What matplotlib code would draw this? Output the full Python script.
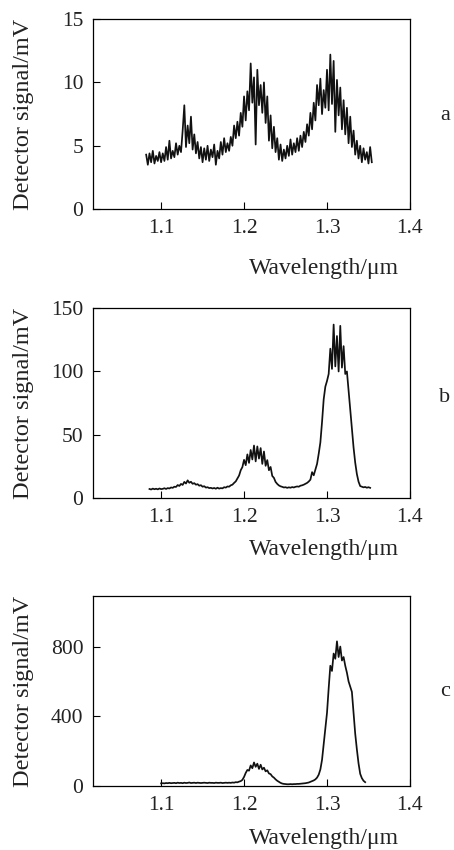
import matplotlib.pyplot as plt

# wavelength grid of the scan (um), shared by the three spectra
wavelength = [
    1.082, 1.084, 1.086, 1.088, 1.090, 1.092, 1.094, 1.096, 1.098, 1.100,
    1.102, 1.104, 1.106, 1.108, 1.110, 1.112, 1.114, 1.116, 1.118, 1.120,
    1.122, 1.124, 1.126, 1.128, 1.130, 1.132, 1.134, 1.136, 1.138, 1.140,
    1.142, 1.144, 1.146, 1.148, 1.150, 1.152, 1.154, 1.156, 1.158, 1.160,
    1.162, 1.164, 1.166, 1.168, 1.170, 1.172, 1.174, 1.176, 1.178, 1.180,
    1.182, 1.184, 1.186, 1.188, 1.190, 1.192, 1.194, 1.196, 1.198, 1.200,
    1.202, 1.204, 1.206, 1.208, 1.210, 1.212, 1.214, 1.216, 1.218, 1.220,
    1.222, 1.224, 1.226, 1.228, 1.230, 1.232, 1.234, 1.236, 1.238, 1.240,
    1.242, 1.244, 1.246, 1.248, 1.250, 1.252, 1.254, 1.256, 1.258, 1.260,
    1.262, 1.264, 1.266, 1.268, 1.270, 1.272, 1.274, 1.276, 1.278, 1.280,
    1.282, 1.284, 1.286, 1.288, 1.290, 1.292, 1.294, 1.296, 1.298, 1.300,
    1.302, 1.304, 1.306, 1.308, 1.310, 1.312, 1.314, 1.316, 1.318, 1.320,
    1.322, 1.324, 1.326, 1.328, 1.330, 1.332, 1.334, 1.336, 1.338, 1.340,
    1.342, 1.344, 1.346, 1.348, 1.350, 1.352, 1.354,
]

# spectrum a (mV), 1.082 - 1.354
signal_a = [
    4.3, 3.5, 4.4, 3.7, 4.6, 3.6, 4.2, 3.8, 4.5, 3.7,
    4.4, 3.8, 4.9, 3.9, 5.4, 4.0, 4.6, 4.1, 5.2, 4.3,
    5.0, 4.5, 6.2, 8.2, 4.9, 6.6, 5.2, 7.3, 4.7, 5.9,
    4.4, 5.3, 4.0, 4.9, 3.7, 4.8, 3.9, 5.0, 3.8, 4.7,
    4.1, 5.1, 3.5, 4.6, 4.0, 5.3, 4.3, 5.6, 4.5, 5.2,
    4.6, 5.7, 5.0, 6.6, 5.6, 6.9, 5.8, 7.6, 6.5, 8.9,
    7.0, 9.3, 7.8, 11.5, 8.4, 10.4, 5.1, 11.0, 8.2, 9.8,
    7.6, 10.0, 6.8, 8.9, 5.4, 7.4, 4.8, 6.5, 4.5, 5.6,
    3.9, 5.1, 3.8, 4.7, 4.0, 5.0, 4.2, 5.5, 4.3, 5.2,
    4.5, 5.6, 4.6, 5.8, 4.9, 6.1, 5.3, 6.7, 5.8, 7.6,
    6.3, 8.4, 7.0, 9.8, 8.2, 10.3, 7.5, 9.4, 8.0, 11.0,
    7.8, 12.2, 8.3, 11.7, 6.1, 10.2, 7.4, 9.6, 6.3, 8.6,
    5.9, 8.0, 5.2, 7.3, 4.9, 6.2, 4.3, 5.4, 4.0, 5.0,
    3.7, 4.8, 3.9, 4.5, 3.6, 4.9, 3.7,
]

# spectrum b (mV), 1.086 - 1.352
signal_b = [
    7.2, 6.8, 7.5, 7.0, 7.4, 6.9, 7.6, 7.1,
    7.3, 7.8, 7.2, 7.9, 7.6, 8.4, 8.1, 9.0, 8.8, 10.3,
    9.6, 11.2, 10.4, 12.8, 11.5, 14.0, 12.1, 12.9, 11.3, 11.8,
    10.6, 11.0, 9.8, 10.2, 9.0, 9.4, 8.3, 8.6, 7.9, 8.1,
    7.6, 8.0, 7.4, 8.2, 7.5, 7.9, 7.7, 8.6, 8.3, 9.2,
    9.0, 10.1, 10.6, 12.0, 13.2, 15.5, 17.8, 22.0, 24.5, 30.2,
    26.0, 34.5, 27.8, 38.0, 30.5, 41.5, 29.0, 40.8, 31.2, 39.5,
    27.0, 36.8, 25.5, 30.0, 22.0, 24.6, 17.5, 16.0, 12.8, 11.2,
    10.0, 9.3, 8.9, 8.4, 8.6, 8.1, 8.5, 8.2, 8.7, 8.4,
    8.9, 9.2, 9.0, 9.8, 10.1, 10.6, 11.3, 12.0, 13.1, 14.6,
    20.5, 18.0, 22.5, 27.0, 35.0, 44.0, 60.0, 78.0, 88.0, 92.5,
    98.0, 118.0, 102.0, 137.0, 104.0, 128.0, 100.0, 136.0, 103.0, 120.0,
    98.0, 100.0, 85.0, 70.0, 55.0, 40.0, 28.0, 19.0, 13.0, 9.5,
    9.0, 8.5, 8.8, 8.2, 8.6, 8.1,
]

# spectrum c (mV), 1.100 - 1.346
signal_c = [
    15,
    16, 15, 17, 16, 18, 16, 17, 18, 16, 19,
    17, 18, 16, 19, 17, 18, 20, 17, 18, 19,
    17, 19, 18, 17, 18, 19, 18, 17, 19, 18,
    18, 17, 19, 18, 18, 19, 17, 18, 19, 18,
    19, 18, 20, 19, 22, 21, 25, 28, 35, 52,
    75, 92, 88, 118, 102, 135, 110, 128, 98, 122,
    95, 105, 84, 90, 72, 68, 55, 48, 38, 30,
    24, 18, 14, 12, 11, 10, 10, 11, 10, 11,
    11, 12, 12, 13, 14, 15, 16, 18, 20, 24,
    28, 32, 38, 48, 65, 95, 150, 240, 330, 420,
    560, 690, 660, 760, 730, 830, 740, 800, 720, 740,
    690, 650, 600, 570, 540, 420, 300, 210, 130, 70,
    45, 30, 22,
]

panels = [
    ("a", wavelength, signal_a, (0, 15), [0, 5, 10, 15]),
    ("b", wavelength[2:-1], signal_b, (0, 150), [0, 50, 100, 150]),
    ("c", wavelength[9:-4], signal_c, (0, 1090), [0, 400, 800]),
]

plt.rcParams['font.family'] = ['Liberation Serif', 'DejaVu Serif']

fig = plt.figure(figsize=(4.54, 8.5), dpi=100)

# axes boxes in figure fractions (left, bottom, width, height)
boxes = [
    (0.205, 0.754, 0.698, 0.2235),
    (0.205, 0.414, 0.698, 0.2235),
    (0.205, 0.0753, 0.698, 0.2235),
]
xlabel_y = [-0.255, -0.215, -0.22]
letter_y = [1 - 115 / 850, 1 - 397 / 850, 1 - 692 / 850]

for i, (tag, x, y, ylim, yticks) in enumerate(panels):
    ax = fig.add_axes(boxes[i])
    ax.plot(x, y, color='#111111', lw=1.25)
    ax.set_xlim(1.018, 1.4)
    ax.set_ylim(*ylim)
    ax.set_xticks([1.1, 1.2, 1.3, 1.4])
    ax.set_xticklabels(['1.1', '1.2', '1.3', '1.4'])
    ax.set_yticks(yticks)
    ax.tick_params(direction='in', length=5, width=0.8, labelsize=15.5, pad=7,
                   labelcolor='#222222')
    for s in ax.spines.values():
        s.set_linewidth(0.9)
    ax.set_ylabel('Detector signal/mV', fontsize=17.5, color='#222222')
    ax.yaxis.set_label_coords(-0.185, 0.5)
    ax.set_xlabel('Wavelength/μm', fontsize=17, color='#222222')
    ax.xaxis.set_label_coords(0.73, xlabel_y[i])
    fig.text(445 / 454, letter_y[i], tag, fontsize=16, ha='center', va='center',
             color='#222222')

fig.savefig('out.png', dpi=100)
